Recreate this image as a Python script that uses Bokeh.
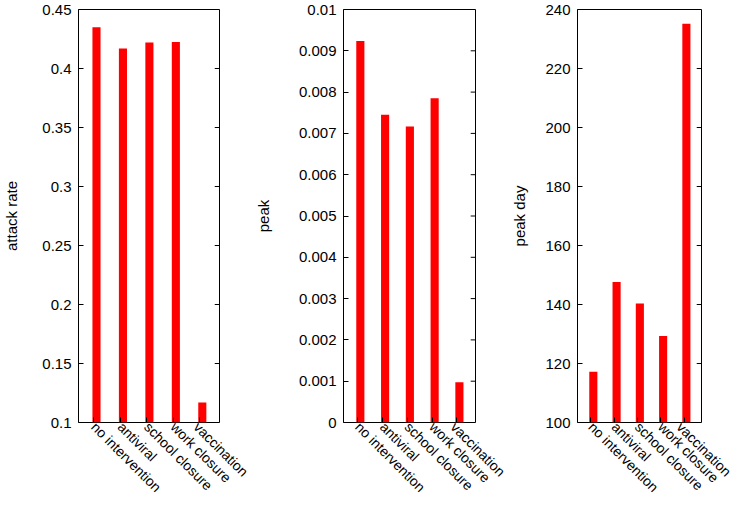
import math
from bokeh.plotting import figure
from bokeh.layouts import row
from bokeh.models import Range1d, FixedTicker
from bokeh.embed import file_html
from bokeh.resources import INLINE

categories = ["no intervention", "antiviral", "school closure", "work closure", "vaccination"]
attack_rate = [0.435, 0.417, 0.422, 0.4225, 0.117]
peak = [0.00924, 0.00745, 0.00717, 0.00785, 0.000975]
peak_day = [117.2, 147.6, 140.3, 129.3, 235.2]

attack_ticks = [0.1, 0.15, 0.2, 0.25, 0.3, 0.35, 0.4, 0.45]
attack_labels = ["0.1", "0.15", "0.2", "0.25", "0.3", "0.35", "0.4", "0.45"]
peak_ticks = [0, 0.001, 0.002, 0.003, 0.004, 0.005, 0.006, 0.007, 0.008, 0.009, 0.01]
peak_labels = ["0", "0.001", "0.002", "0.003", "0.004", "0.005", "0.006", "0.007", "0.008", "0.009", "0.01"]
day_ticks = [100, 120, 140, 160, 180, 200, 220, 240]
day_labels = ["100", "120", "140", "160", "180", "200", "220", "240"]

FONT = "Liberation Sans"
X0, X1 = -0.58, 4.75
BAR_SHIFT = 0.1
H = 503
TOP = 9
FRAME_H = 417


def make_panel(values, ylabel, ticks, labels, width, bl, frame_w, lab_standoff):
    y0, y1 = ticks[0], ticks[-1]
    br = width - bl - frame_w
    p = figure(width=width, height=H, output_backend="svg", toolbar_location=None,
               x_range=Range1d(X0, X1), y_range=Range1d(y0, y1),
               min_border_left=bl, min_border_right=br, min_border_top=TOP,
               min_border_bottom=H - TOP - FRAME_H)
    xs = list(range(len(categories)))
    px = (X1 - X0) / frame_w          # data units per pixel (x)
    p.vbar(x=[x + BAR_SHIFT for x in xs], top=values, bottom=y0, width=8.5 * px,
           fill_color="#ff0000", line_color=None)
    # mirrored y ticks on the right edge
    p.segment(x0=[X1] * len(ticks), x1=[X1 - 5 * px] * len(ticks), y0=ticks, y1=ticks,
              line_color="black", line_width=1)
    p.grid.visible = False
    p.outline_line_color = "black"
    p.outline_line_width = 1

    xa = p.xaxis[0]
    xa.ticker = FixedTicker(ticks=xs)
    xa.major_label_overrides = {i: c for i, c in enumerate(categories)}
    xa.major_label_orientation = -math.pi / 4
    xa.major_tick_in = 5
    xa.major_tick_out = 0
    xa.minor_tick_line_color = None
    xa.axis_line_color = None
    xa.major_label_text_font = FONT
    xa.major_label_text_font_size = "14px"
    xa.major_label_text_line_height = 0.8
    xa.major_label_text_color = "black"
    xa.major_label_standoff = 2
    xa.major_tick_line_color = "black"

    ya = p.yaxis[0]
    ya.ticker = FixedTicker(ticks=ticks)
    ya.major_label_overrides = {t: l for t, l in zip(ticks, labels)}
    ya.major_tick_in = 5
    ya.major_tick_out = 0
    ya.minor_tick_line_color = None
    ya.axis_line_color = None
    ya.major_label_text_font = FONT
    ya.major_label_text_font_size = "15px"
    ya.major_label_text_color = "black"
    ya.major_label_standoff = 7
    ya.axis_label = ylabel
    ya.axis_label_text_font = FONT
    ya.axis_label_text_font_size = "15px"
    ya.axis_label_text_font_style = "normal"
    ya.axis_label_text_color = "black"
    ya.axis_label_standoff = lab_standoff
    return p


p1 = make_panel(attack_rate, "attack rate", attack_ticks, attack_labels, 251, 71, 148, 19)
p2 = make_panel(peak, "peak", peak_ticks, peak_labels, 257, 86, 138, 24)
p3 = make_panel(peak_day, "peak day", day_ticks, day_labels, 226, 63, 130, 14)

layout = row(p1, p2, p3)
open("out.html", "w").write(file_html(layout, INLINE))
